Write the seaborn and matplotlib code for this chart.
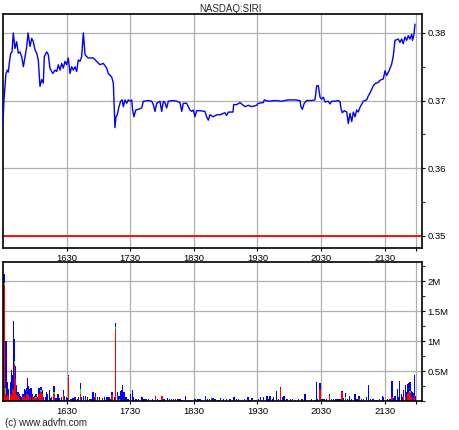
import matplotlib
matplotlib.use("Agg")
import matplotlib.pyplot as plt
import numpy as np
import pandas as pd
import seaborn as sns
from matplotlib.ticker import MultipleLocator

# ---- data (minutes after 15:30) ----
price_min = [0.0, 0.9, 1.9, 2.8, 4.1, 5.0, 5.9, 7.3, 8.5, 9.7, 11.3, 12.9, 14.4, 16.0, 17.6,
             19.2, 20.8, 22.4, 23.6, 25.5, 27.1, 28.6, 30.2, 31.8, 33.3, 34.9, 36.5, 38.0, 39.0,
             41.2, 42.7, 44.3, 46.9, 49.1, 50.7, 52.2, 53.8, 55.4, 56.9, 58.5, 60.1, 61.6, 63.2,
             64.8, 66.3, 67.9, 69.5, 71.0, 72.6, 74.2, 75.8, 77.4, 79.0, 80.5, 85.2, 88.4, 91.5,
             94.6, 97.8, 99.3, 102.5, 104.1, 104.7, 105.6, 106.6, 107.8, 109.4, 111.0, 112.5,
             113.5, 115.1, 116.7, 118.2, 119.8, 121.4, 122.3, 123.6, 125.2, 127.6, 130.8, 132.4,
             137.1, 140.3, 141.8, 143.4, 145.0, 148.1, 149.7, 151.3, 152.8, 154.4, 156.0, 160.7,
             163.9, 167.0, 168.6, 170.1, 173.3, 176.4, 178.0, 179.6, 181.1, 182.7, 185.8, 190.5,
             192.1, 193.7, 195.3, 198.4, 201.6, 204.7, 206.3, 209.4, 211.0, 212.6, 217.0, 217.6,
             220.5, 223.6, 226.7, 228.3, 231.4, 234.6, 239.3, 240.8, 245.6, 246.5, 250.3, 256.6,
             262.9, 269.2, 275.5, 280.2, 281.1, 282.4, 284.2, 286.5, 291.2, 294.3, 296.0, 297.5,
             299.1, 300.6, 302.2, 303.8, 306.9, 308.5, 310.1, 313.2, 316.4, 318.0, 318.9, 320.1,
             322.0, 324.3, 325.8, 327.4, 329.0, 330.5, 332.1, 333.7, 335.2, 336.8, 339.9, 343.1,
             344.7, 346.2, 349.4, 351.0, 354.1, 355.7, 358.8, 360.4, 362.0, 364.2, 366.7, 368.2,
             369.8, 372.9, 374.5, 376.1, 377.6, 379.2, 380.8, 382.4, 383.9, 385.5, 386.4, 387.7,
             388.7]
price_val = [0.3665, 0.3701, 0.3721, 0.3740, 0.3745, 0.3742, 0.3755, 0.3770, 0.3772, 0.3800,
             0.3777, 0.3787, 0.3770, 0.3772, 0.3765, 0.3750, 0.3765, 0.3780, 0.3800, 0.3780,
             0.3792, 0.3787, 0.3775, 0.3770, 0.3760, 0.3721, 0.3731, 0.3726, 0.3765, 0.3772,
             0.3768, 0.3748, 0.3740, 0.3745, 0.3743, 0.3753, 0.3745, 0.3755, 0.3748, 0.3758,
             0.3753, 0.3763, 0.3740, 0.3750, 0.3745, 0.3750, 0.3743, 0.3760, 0.3758, 0.3765,
             0.3800, 0.3768, 0.3765, 0.3763, 0.3763, 0.3758, 0.3753, 0.3755, 0.3748, 0.3740,
             0.3735, 0.3726, 0.3699, 0.3660, 0.3676, 0.3679, 0.3691, 0.3699, 0.3701, 0.3691,
             0.3701, 0.3696, 0.3701, 0.3699, 0.3701, 0.3686, 0.3676, 0.3686, 0.3687, 0.3689,
             0.3699, 0.3700, 0.3699, 0.3694, 0.3684, 0.3696, 0.3699, 0.3684, 0.3699, 0.3697,
             0.3689, 0.3699, 0.3700, 0.3699, 0.3697, 0.3684, 0.3696, 0.3696, 0.3686, 0.3684,
             0.3686, 0.3676, 0.3685, 0.3685, 0.3684, 0.3676, 0.3671, 0.3679, 0.3676, 0.3679,
             0.3679, 0.3680, 0.3682, 0.3678, 0.3683, 0.3683, 0.3694, 0.3694, 0.3697, 0.3693,
             0.3691, 0.3693, 0.3691, 0.3693, 0.3696, 0.3697, 0.3701, 0.3699, 0.3700, 0.3699,
             0.3701, 0.3701, 0.3700, 0.3691, 0.3687, 0.3696, 0.3700, 0.3700, 0.3701, 0.3722,
             0.3722, 0.3705, 0.3702, 0.3705, 0.3698, 0.3699, 0.3695, 0.3699, 0.3699, 0.3700,
             0.3698, 0.3688, 0.3682, 0.3685, 0.3683, 0.3666, 0.3681, 0.3669, 0.3683, 0.3676,
             0.3686, 0.3683, 0.3690, 0.3699, 0.3701, 0.3707, 0.3711, 0.3722, 0.3725, 0.3727,
             0.3730, 0.3732, 0.3744, 0.3737, 0.3744, 0.3754, 0.3766, 0.3789, 0.3791, 0.3786,
             0.3791, 0.3784, 0.3794, 0.3789, 0.3796, 0.3791, 0.3798, 0.3789, 0.3798, 0.3813]

vol_min = [1, 2, 3, 4, 5, 7, 8, 9, 10, 11, 12, 13, 14, 15, 16, 17, 18, 19, 20, 21, 22, 23, 24, 25,
           26, 27, 28, 29, 30, 31, 33, 34, 36, 37, 38, 40, 41, 42, 44, 45, 46, 48, 49, 50, 52, 53,
           55, 57, 58, 60, 61, 62, 64, 66, 68, 70, 71, 73, 74, 76, 78, 80, 82, 84, 85, 86, 87, 89,
           91, 94, 96, 98, 100, 101, 103, 105, 106, 108, 109, 110, 111, 112, 113, 114, 116, 118,
           120, 122, 123, 125, 126, 128, 131, 133, 135, 137, 139, 141, 144, 146, 148, 150, 152,
           155, 157, 159, 161, 163, 165, 167, 169, 172, 175, 178, 181, 184, 186, 188, 191, 193,
           195, 197, 198, 200, 203, 205, 208, 211, 214, 218, 220, 222, 225, 228, 231, 233, 235,
           238, 241, 243, 246, 249, 251, 252, 254, 255, 258, 260, 262, 264, 265, 268, 271, 273,
           276, 279, 282, 285, 288, 291, 294, 296, 297, 299, 301, 303, 305, 308, 310, 312, 314,
           316, 318, 320, 321, 323, 325, 327, 329, 332, 334, 336, 338, 340, 343, 345, 347, 349,
           352, 355, 358, 359, 361, 363, 365, 367, 369, 370, 372, 373, 374, 376, 377, 378, 380,
           381, 382, 383, 384, 385, 386, 387, 388, 389]
vol_total = [2.12, 0.31, 1.00, 0.31, 0.20, 0.31, 0.51, 0.44, 1.34, 1.03, 0.58, 0.26, 0.15, 0.12,
             0.09, 0.04, 0.07, 0.12, 0.20, 0.18, 0.22, 0.38, 0.25, 0.20, 0.22, 0.22, 0.12, 0.07,
             0.09, 0.12, 0.07, 0.22, 0.23, 0.18, 0.07, 0.07, 0.15, 0.12, 0.18, 0.05, 0.07, 0.25,
             0.05, 0.05, 0.12, 0.05, 0.07, 0.18, 0.08, 0.07, 0.05, 0.44, 0.04, 0.05, 0.07, 0.04,
             0.07, 0.30, 0.07, 0.08, 0.09, 0.07, 0.04, 0.04, 0.15, 0.07, 0.13, 0.07, 0.07, 0.05,
             0.07, 0.07, 0.07, 0.04, 0.15, 0.07, 1.30, 0.15, 0.09, 0.09, 0.16, 0.19, 0.27, 0.15,
             0.07, 0.04, 0.11, 0.19, 0.07, 0.04, 0.04, 0.03, 0.06, 0.03, 0.04, 0.03, 0.02, 0.03,
             0.09, 0.03, 0.02, 0.09, 0.04, 0.05, 0.04, 0.03, 0.04, 0.03, 0.04, 0.03, 0.02, 0.09,
             0.02, 0.02, 0.03, 0.04, 0.03, 0.02, 0.08, 0.03, 0.04, 0.07, 0.05, 0.03, 0.02, 0.05,
             0.03, 0.04, 0.03, 0.07, 0.03, 0.04, 0.02, 0.03, 0.07, 0.02, 0.05, 0.02, 0.03, 0.06,
             0.07, 0.09, 0.04, 0.08, 0.04, 0.07, 0.17, 0.04, 0.23, 0.07, 0.09, 0.03, 0.04, 0.03,
             0.02, 0.04, 0.03, 0.11, 0.02, 0.03, 0.02, 0.32, 0.04, 0.30, 0.03, 0.04, 0.03, 0.11,
             0.03, 0.04, 0.03, 0.04, 0.03, 0.17, 0.05, 0.13, 0.04, 0.09, 0.04, 0.11, 0.03, 0.08,
             0.04, 0.03, 0.07, 0.26, 0.03, 0.03, 0.02, 0.03, 0.09, 0.07, 0.02, 0.03, 0.03, 0.34,
             0.05, 0.09, 0.20, 0.07, 0.34, 0.12, 0.07, 0.18, 0.26, 0.15, 0.29, 0.30, 0.32, 0.17,
             0.15, 0.13, 0.44, 0.08]
vol_red = [1.93, 0.12, 0.09, 0.10, 0.09, 0.12, 0.10, 0.20, 0.20, 0.62, 0.37, 0.12, 0.09, 0.05,
           0.00, 0.00, 0.00, 0.07, 0.09, 0.05, 0.12, 0.12, 0.10, 0.00, 0.09, 0.00, 0.09, 0.05,
           0.06, 0.05, 0.00, 0.12, 0.15, 0.12, 0.00, 0.00, 0.00, 0.00, 0.00, 0.00, 0.00, 0.12,
           0.00, 0.00, 0.00, 0.00, 0.00, 0.11, 0.00, 0.00, 0.00, 0.40, 0.00, 0.00, 0.00, 0.00,
           0.00, 0.12, 0.00, 0.00, 0.00, 0.00, 0.00, 0.00, 0.00, 0.00, 0.09, 0.00, 0.00, 0.00,
           0.00, 0.00, 0.00, 0.00, 0.10, 0.00, 1.20, 0.09, 0.00, 0.00, 0.00, 0.00, 0.00, 0.00,
           0.00, 0.00, 0.00, 0.00, 0.00, 0.00, 0.00, 0.00, 0.00, 0.00, 0.00, 0.00, 0.00, 0.00,
           0.07, 0.00, 0.00, 0.09, 0.00, 0.00, 0.00, 0.00, 0.00, 0.00, 0.00, 0.00, 0.00, 0.00,
           0.00, 0.00, 0.00, 0.00, 0.00, 0.00, 0.00, 0.00, 0.00, 0.04, 0.00, 0.00, 0.00, 0.00,
           0.00, 0.00, 0.00, 0.00, 0.00, 0.00, 0.00, 0.00, 0.00, 0.00, 0.00, 0.00, 0.00, 0.00,
           0.00, 0.00, 0.00, 0.00, 0.00, 0.00, 0.00, 0.00, 0.22, 0.00, 0.00, 0.00, 0.00, 0.00,
           0.00, 0.00, 0.00, 0.00, 0.00, 0.00, 0.00, 0.00, 0.00, 0.20, 0.00, 0.00, 0.00, 0.09,
           0.00, 0.00, 0.00, 0.00, 0.00, 0.15, 0.00, 0.03, 0.00, 0.00, 0.00, 0.00, 0.00, 0.04,
           0.00, 0.00, 0.00, 0.00, 0.00, 0.00, 0.00, 0.00, 0.00, 0.00, 0.00, 0.00, 0.00, 0.07,
           0.00, 0.00, 0.00, 0.00, 0.00, 0.00, 0.00, 0.07, 0.07, 0.00, 0.12, 0.15, 0.13, 0.07,
           0.00, 0.05, 0.10, 0.00]
vol_green = [0.04, 0.09, 0.00, 0.00, 0.00, 0.00, 0.00, 0.00, 0.00, 0.04, 0.00, 0.00, 0.00, 0.00,
             0.00, 0.00, 0.00, 0.00, 0.00, 0.00, 0.00, 0.00, 0.00, 0.00, 0.00, 0.00, 0.00, 0.00,
             0.00, 0.02, 0.00, 0.00, 0.03, 0.00, 0.00, 0.00, 0.00, 0.00, 0.00, 0.00, 0.00, 0.03,
             0.00, 0.00, 0.00, 0.00, 0.00, 0.00, 0.00, 0.00, 0.00, 0.02, 0.00, 0.00, 0.00, 0.00,
             0.00, 0.08, 0.00, 0.00, 0.00, 0.00, 0.00, 0.00, 0.00, 0.00, 0.00, 0.00, 0.00, 0.00,
             0.00, 0.00, 0.00, 0.00, 0.00, 0.00, 0.04, 0.00, 0.00, 0.03, 0.00, 0.00, 0.00, 0.00,
             0.00, 0.00, 0.00, 0.00, 0.00, 0.00, 0.00, 0.00, 0.00, 0.00, 0.00, 0.00, 0.00, 0.00,
             0.00, 0.00, 0.00, 0.00, 0.00, 0.00, 0.00, 0.00, 0.00, 0.00, 0.00, 0.00, 0.00, 0.00,
             0.00, 0.00, 0.00, 0.00, 0.00, 0.00, 0.00, 0.00, 0.00, 0.02, 0.02, 0.00, 0.00, 0.00,
             0.00, 0.00, 0.00, 0.00, 0.00, 0.00, 0.00, 0.00, 0.00, 0.00, 0.02, 0.00, 0.00, 0.00,
             0.00, 0.00, 0.00, 0.00, 0.00, 0.00, 0.00, 0.00, 0.00, 0.00, 0.00, 0.00, 0.00, 0.00,
             0.00, 0.00, 0.00, 0.00, 0.00, 0.00, 0.00, 0.00, 0.00, 0.00, 0.00, 0.02, 0.00, 0.00,
             0.00, 0.00, 0.00, 0.00, 0.00, 0.00, 0.00, 0.04, 0.00, 0.00, 0.00, 0.00, 0.00, 0.00,
             0.00, 0.00, 0.02, 0.00, 0.00, 0.00, 0.00, 0.00, 0.00, 0.00, 0.00, 0.00, 0.00, 0.00,
             0.00, 0.00, 0.00, 0.00, 0.00, 0.00, 0.00, 0.00, 0.00, 0.00, 0.00, 0.00, 0.03, 0.00,
             0.00, 0.00, 0.00, 0.00]

tick_min = [60, 120, 180, 240, 300, 360]
tick_labels = ["1630", "1730", "1830", "1930", "2030", "2130"]
close_min = 390
prev_close = 0.35
price_ticks = [0.35, 0.36, 0.37, 0.38]
vol_ticks = [0.5, 1.0, 1.5, 2.0]
vol_tick_labels = ["0.5M", "1M", "1.5M", "2M"]

# ---- style ----
sns.set_style("white")
plt.rcParams["font.family"] = ["Liberation Sans", "DejaVu Sans"]

W, H = 460, 430
fig = plt.figure(figsize=(W / 100, H / 100), dpi=100)
ax1 = fig.add_axes([3 / W, 1 - 248 / H, 419 / W, 234 / H])
ax2 = fig.add_axes([3 / W, 1 - 401 / H, 419 / W, 139 / H])

# price
sns.lineplot(x=price_min, y=price_val, ax=ax1, color="#0000ff", lw=1.0,
             sort=False, estimator=None, zorder=3)
ax1.axhline(prev_close, color="#ff0000", lw=1.3, zorder=2)

# volume (stacked: red bottom, green middle, blue top)
df = pd.DataFrame({"minute": vol_min, "total": vol_total,
                   "red": vol_red, "green": vol_green})
df["red_green"] = df["red"] + df["green"]
common = dict(x="minute", native_scale=True, orient="x", saturation=1,
              width=1.3, errorbar=None, linewidth=0, edgecolor="none", ax=ax2)
sns.barplot(data=df, y="total", color="#0000ff", **common)
sns.barplot(data=df, y="red_green", color="#00ff00", **common)
sns.barplot(data=df, y="red", color="#ff0000", **common)
for p in ax2.patches:
    p.set_linewidth(0)
    p.set_edgecolor("none")

grid_kw = dict(color="#a9b1b1", lw=0.9)
for ax in (ax1, ax2):
    ax.set_xlim(0, 395.3)
    ax.set_xticks(tick_min + [close_min])
    ax.set_xticklabels(tick_labels + [""])
    ax.set_xlabel("")
    ax.set_ylabel("")
    ax.grid(True, which="major", **grid_kw)
    ax.set_axisbelow(True)
    ax.yaxis.tick_right()
    ax.tick_params(axis="y", which="major", direction="out", length=2.5, width=0.8,
                   pad=1.5, labelsize=6.8, right=True, left=False, colors="black")
    ax.tick_params(axis="y", which="minor", direction="out", length=2, width=0.8,
                   right=True, left=False)
    ax.tick_params(axis="x", which="major", direction="out", length=2, width=0.8,
                   pad=2.5, labelsize=6.8, bottom=True, colors="black")
    for s in ax.spines.values():
        s.set_color("black")
        s.set_linewidth(1.2)

ax1.set_ylim(0.3482, 0.3828)
ax1.set_yticks(price_ticks)
ax1.set_yticklabels([f"{v:.2f}" for v in price_ticks])
ax1.yaxis.set_minor_locator(MultipleLocator(0.005))

ax2.set_ylim(0, 2.32)
ax2.set_yticks(vol_ticks)
ax2.set_yticklabels(vol_tick_labels)
ax2.yaxis.set_minor_locator(MultipleLocator(0.25))

fig.text(0.5, 1 - 8.5 / H, "NASDAQ:SIRI", ha="center", va="center", fontsize=7)
fig.text(5 / W, 1 - 422.5 / H, "(c) www.advfn.com", ha="left", va="center", fontsize=7)

fig.savefig("out.png", dpi=100)
